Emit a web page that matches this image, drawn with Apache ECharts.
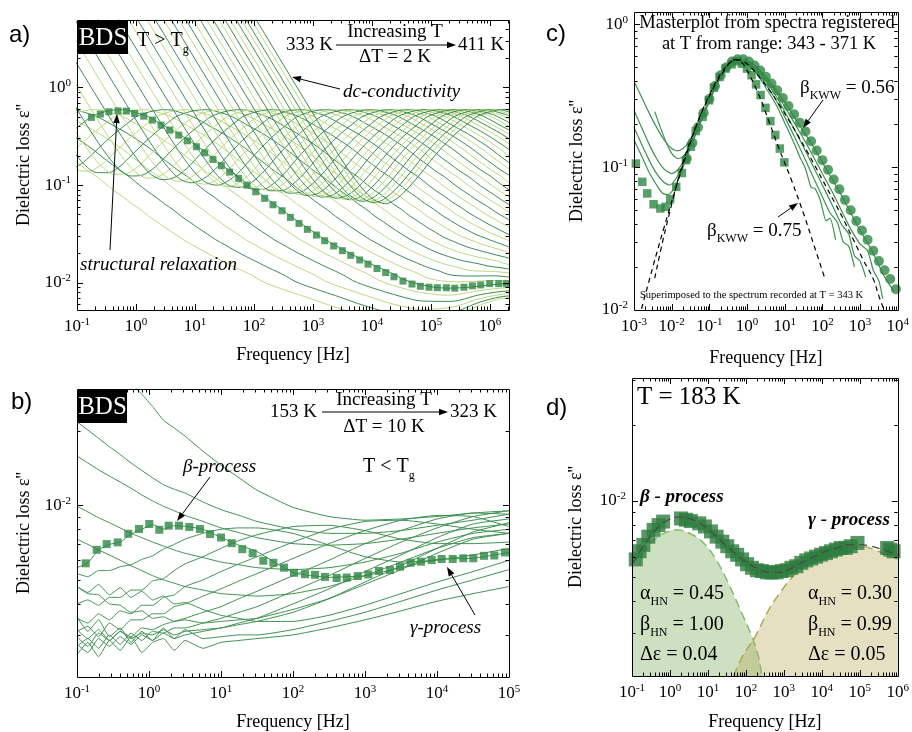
<!DOCTYPE html>
<html><head><meta charset="utf-8">
<script src="https://cdn.jsdelivr.net/npm/echarts@6/dist/echarts.min.js"></script>
<style>html,body{margin:0;padding:0;background:#fff}#c{width:912px;height:732px}</style>
</head><body><div id="c"></div>
<script>
// ---------------- Panel a data (T > Tg, 333..411 K, dT = 2 K) ----------------
const tempsA = [333,335,337,339,341,343,345,347,349,351,353,355,357,359,361,363,365,367,369,371,373,375,377,379,381,383,385,387,389,391,393,395,397,399,401,403,405,407,409,411];
// log10 of the structural-relaxation peak frequency of each spectrum
const peakLogA = [-2.70,-2.15,-1.64,-1.16,-0.72,-0.30,0.09,0.46,0.80,1.13,1.43,1.72,2.00,2.26,2.51,2.74,2.97,3.18,3.39,3.58,3.77,3.95,4.12,4.28,4.44,4.59,4.74,4.88,5.02,5.15,5.27,5.39,5.51,5.62,5.73,5.84,5.94,6.04,6.13,6.23];
// log10 of the frequency where the dc-conductivity line reaches eps'' = 1
const dcLogA = [-5.13,-4.64,-4.19,-3.77,-3.38,-3.01,-2.67,-2.35,-2.05,-1.76,-1.49,-1.23,-0.99,-0.76,-0.54,-0.34,-0.14,0.05,0.23,0.40,0.57,0.72,0.88,1.02,1.16,1.29,1.42,1.54,1.66,1.78,1.89,2.00,2.10,2.20,2.29,2.39,2.48,2.56,2.65,2.73];
// relaxation shape: offset (decades from peak) and eps''
const shapeDeltaA = [-4.4,-4.0,-3.6,-3.2,-2.9,-2.6,-2.4,-2.2,-2.0,-1.8,-1.6,-1.4,-1.2,-1.0,-0.8,-0.6,-0.45,-0.3,-0.15,0,0.14,0.28,0.44,0.58,0.73,0.88,1.03,1.18,1.33,1.47,1.61,1.75,1.89,2.05,2.19,2.33,2.49,2.63,2.78,2.92,3.07,3.21,3.36,3.50,3.66,3.80,3.94,4.10,4.24,4.39,4.54,4.68,4.83,5.0,5.3,5.6,6.0,6.5,7.0,7.5,8.0,8.5,9.0,9.5];
const shapeLossA = [0.00015,0.00037,0.00094,0.0024,0.0045,0.0085,0.0135,0.0207,0.0325,0.0531,0.0826,0.124,0.183,0.254,0.336,0.425,0.499,0.543,0.575,0.590,0.586,0.555,0.520,0.474,0.421,0.375,0.333,0.291,0.253,0.219,0.187,0.162,0.139,0.120,0.102,0.0876,0.0749,0.0644,0.0559,0.0478,0.0415,0.0361,0.0315,0.0276,0.0244,0.0218,0.0196,0.0175,0.0159,0.0143,0.0130,0.0118,0.0104,0.0094,0.0081,0.0070,0.0057,0.0045,0.0036,0.0029,0.0024,0.0020,0.0017,0.0014];
// high-frequency secondary contribution (absolute log10 f, eps'')
const secLogFA = [2.5,3.0,4.0,4.5,5.0,5.3,5.6,5.8,6.0,6.2,6.5];
const secLossA = [0,0.0001,0.0002,0.0004,0.0010,0.0018,0.0029,0.0038,0.0046,0.0052,0.0055];
// squares: spectrum at 343 K
const sqFreqA = [0.1754,0.2489,0.3483,0.4955,0.687,0.951,1.352,1.897,2.655,3.724,5.30,7.43,10.57,14.59,20.18,27.99,38.73,55.08,76.03,106.9,151.7,209.9,298.5,414,579,803,1143,1578,2244,3148,4355,6194,8551,12160,17060,23600,33500,47640,66070,92470,128200,182400,252400,362200,503500,695000,988600,1403000,1897000];
const sqLossA = [0.493,0.533,0.563,0.576,0.572,0.542,0.508,0.463,0.411,0.366,0.325,0.284,0.247,0.214,0.183,0.158,0.136,0.117,0.100,0.0855,0.0731,0.0629,0.0546,0.0467,0.0405,0.0352,0.0308,0.0269,0.0238,0.0213,0.0191,0.0171,0.0155,0.0140,0.0127,0.0115,0.0104,0.0097,0.0092,0.0090,0.0089,0.0089,0.0088,0.0090,0.0093,0.0095,0.0098,0.0098,0.0098];

// ---------------- Panel b data (T < Tg, 153..323 K, dT = 10 K), eps'' x 1e-3 ----------------
const logFreqB = [-1,-0.85,-0.7,-0.55,-0.4,-0.25,-0.1,0.05,0.2,0.35,0.5,0.75,1,1.25,1.5,2,2.5,3,3.5,4,4.5,5];
const tempsB = [153,163,173,183,193,203,213,223,233,243,253,263,273,283,293,303,313,323];
const lossB = [
 [2.5,2.8,2.45,2.85,2.6,2.95,2.55,2.8,2.9,2.6,2.85,2.65,2.8,2.85,2.9,3.0,3.2,3.45,3.75,4.1,4.4,4.7],
 [3.55,3.1,3.45,2.95,3.2,2.8,3.1,2.85,3.2,2.9,3.15,2.9,2.95,3.0,3.0,3.15,3.4,3.7,4.1,4.55,5.0,5.5],
 [4.7,4.45,4.8,4.35,4.65,4.25,4.5,4.15,4.3,4.0,4.05,3.8,3.6,3.5,3.4,3.4,3.6,3.95,4.4,4.9,5.4,6.0],
 [5.6,5.85,6.6,6.95,7.1,7.65,8.0,8.35,8.0,8.27,8.22,8.0,7.41,6.9,6.5,5.35,5.12,5.2,5.6,6.05,6.11,6.45],
 [5.3,5.15,5.45,5.45,5.65,5.75,6.05,6.25,6.65,6.95,7.3,7.7,8.0,8.1,8.1,7.7,6.9,6.2,5.9,6.0,6.3,6.7],
 [4.0,4.15,3.95,4.25,4.25,4.55,4.55,4.95,5.05,5.45,5.8,6.2,6.7,7.2,7.6,8.2,8.3,7.9,7.3,7.0,7.0,7.1],
 [3.5,3.35,3.65,3.45,3.75,3.65,3.95,3.95,4.25,4.35,4.7,5.0,5.4,5.8,6.2,7.1,8.0,8.6,8.7,8.4,8.0,7.7],
 [3.1,3.25,2.95,3.35,3.15,3.45,3.45,3.65,3.65,3.9,4.0,4.3,4.6,4.95,5.3,6.1,7.0,7.9,8.7,9.1,9.0,8.2],
 [2.95,2.7,3.05,2.85,3.1,2.95,3.2,3.15,3.3,3.4,3.5,3.7,3.9,4.2,4.5,5.2,6.0,7.0,7.9,8.8,9.3,9.2],
 [2.7,2.9,2.65,3.0,2.75,3.05,2.85,3.1,3.05,3.2,3.2,3.35,3.5,3.7,3.9,4.5,5.2,6.1,7.1,8.1,9.0,9.5],
 [2.75,2.55,2.9,2.7,2.95,2.75,3.0,2.85,3.05,2.9,3.0,3.1,3.2,3.35,3.5,4.0,4.6,5.4,6.3,7.4,8.4,8.8],
 [3.15,2.9,3.15,2.85,3.1,2.9,3.05,3.0,3.15,3.0,3.1,3.15,3.2,3.3,3.4,3.7,4.2,4.9,5.7,6.7,7.8,8.5],
 [4.7,4.4,4.35,4.0,3.95,3.7,3.75,3.5,3.55,3.4,3.45,3.35,3.4,3.45,3.5,3.8,4.2,4.8,5.5,6.4,7.3,7.7],
 [7.3,6.95,6.6,6.3,6.0,5.7,5.45,5.2,5.0,4.85,4.7,4.55,4.4,4.35,4.3,4.4,4.7,5.2,5.9,6.7,7.4,7.7],
 [9.9,9.4,8.9,8.5,8.1,7.7,7.4,7.1,6.85,6.6,6.4,6.15,5.9,5.75,5.6,5.5,5.6,5.9,6.4,7.1,7.7,8.0],
 [15.8,14.8,13.9,13.1,12.4,11.7,11.0,10.4,9.9,9.5,9.1,8.6,8.1,7.75,7.4,7.0,6.9,7.0,7.3,7.7,8.1,8.4],
 [21.7,20.1,18.6,17.2,16.0,14.8,13.8,12.9,12.1,11.6,11.2,10.3,9.6,9.1,8.6,8.0,7.7,7.7,7.9,8.3,8.7,9.2],
 [60,52,45,40,35,31,28,25,22,20.5,19,16.5,14.5,12.9,11.5,9.8,9.0,8.7,8.8,9.0,9.3,9.5]
];
// squares: spectrum at 183 K
const sqLogFreqB = [-0.879,-0.726,-0.588,-0.435,-0.288,-0.139,0.004,0.143,0.273,0.417,0.560,0.708,0.847,1.0,1.149,1.296,1.440,1.588,1.727,1.875,2.014,2.167,2.306,2.444,2.607,2.746,2.899,3.046,3.194,3.347,3.486,3.635,3.778,3.926,4.065,4.218,4.365,4.504,4.653,4.796,4.944];
const sqLossB = [0.00583,0.00661,0.00697,0.00708,0.00767,0.00802,0.00840,0.00796,0.00827,0.00827,0.00817,0.00802,0.00765,0.00741,0.00703,0.00665,0.00640,0.00597,0.00586,0.00560,0.00534,0.00527,0.00524,0.00514,0.00509,0.00511,0.00518,0.00526,0.00543,0.00548,0.00565,0.00586,0.00592,0.00601,0.00607,0.00607,0.00611,0.00611,0.00625,0.00627,0.00645];

// ---------------- Panel c data (masterplot), [log10 f, eps''] ----------------
const sqC = [[-2.95,0.106],[-2.78,0.079],[-2.65,0.0655],[-2.48,0.055],[-2.30,0.0514],[-2.16,0.0528],[-2.04,0.0598],[-1.88,0.0728],[-1.73,0.091],[-1.62,0.112],[-1.49,0.139],[-1.36,0.179],[-1.18,0.225],[-1.01,0.294],[-0.88,0.36],[-0.73,0.428],[-0.57,0.49],[-0.41,0.525],[-0.27,0.551],[-0.13,0.53],[0.0,0.49],[0.12,0.44],[0.24,0.38],[0.36,0.32],[0.49,0.26],[0.62,0.21],[0.75,0.168],[0.87,0.135],[0.99,0.108]];
const circC = [[-1.6,0.115],[-1.45,0.148],[-1.3,0.19],[-1.15,0.24],[-1.0,0.3],[-0.85,0.37],[-0.7,0.44],[-0.55,0.5],[-0.4,0.55],[-0.25,0.57],[-0.1,0.57],[0.05,0.55],[0.2,0.515],[0.35,0.475],[0.5,0.43],[0.65,0.385],[0.8,0.345],[0.95,0.305],[1.1,0.268],[1.25,0.235],[1.4,0.205],[1.55,0.178],[1.7,0.152],[1.85,0.131],[2.0,0.112],[2.15,0.096],[2.3,0.082],[2.45,0.07],[2.6,0.059],[2.75,0.05],[2.9,0.042],[3.05,0.036],[3.2,0.031],[3.35,0.026],[3.5,0.022],[3.65,0.019],[3.8,0.0165],[3.95,0.014]];
const lineC1 = [[-3.0,0.40],[-2.8,0.31],[-2.6,0.24],[-2.4,0.19],[-2.2,0.155],[-2.0,0.135],[-1.85,0.13],[-1.7,0.135],[-1.55,0.15],[-1.4,0.175],[-1.25,0.21],[-1.1,0.255],[-0.95,0.315],[-0.8,0.385],[-0.65,0.45],[-0.5,0.51],[-0.35,0.55],[-0.2,0.565],[-0.05,0.56],[0.1,0.54],[0.3,0.49],[0.5,0.43],[0.75,0.355],[1.0,0.285],[1.25,0.225],[1.5,0.178],[1.75,0.14],[2.0,0.108],[2.25,0.083],[2.5,0.064],[2.75,0.048],[3.0,0.036],[3.25,0.028],[3.45,0.022],[3.6,0.018],[3.75,0.0155],[3.9,0.0135]];
const lineC2 = [[-2.45,0.245],[-2.3,0.19],[-2.15,0.15],[-2.0,0.125],[-1.85,0.115],[-1.7,0.118],[-1.55,0.135],[-1.4,0.165],[-1.25,0.205],[-1.1,0.252],[-0.95,0.312],[-0.8,0.382],[-0.65,0.448],[-0.5,0.508],[-0.35,0.548],[-0.2,0.562],[-0.05,0.555],[0.1,0.53],[0.3,0.48],[0.5,0.415],[0.75,0.34],[1.0,0.265],[1.25,0.205],[1.5,0.158],[1.75,0.12],[2.0,0.09],[2.25,0.068],[2.5,0.05],[2.75,0.037],[3.0,0.029],[3.2,0.026],[3.35,0.019],[3.5,0.016],[3.6,0.012]];
const lineC3 = [[-3.0,0.25],[-2.8,0.19],[-2.6,0.145],[-2.4,0.115],[-2.2,0.097],[-2.0,0.09],[-1.85,0.095],[-1.7,0.108],[-1.55,0.128],[-1.4,0.16],[-1.25,0.2],[-1.1,0.25],[-0.95,0.31],[-0.8,0.38],[-0.65,0.446],[-0.5,0.506],[-0.35,0.546],[-0.2,0.56],[-0.05,0.55],[0.1,0.52],[0.3,0.465],[0.5,0.40],[0.75,0.32],[1.0,0.245],[1.25,0.185],[1.5,0.138],[1.75,0.102],[2.0,0.075],[2.25,0.055],[2.5,0.04],[2.7,0.034],[2.85,0.024],[3.0,0.022],[3.15,0.017]];
const lineC4 = [[-3.0,0.19],[-2.8,0.145],[-2.6,0.112],[-2.4,0.09],[-2.2,0.078],[-2.05,0.075],[-1.9,0.082],[-1.75,0.097],[-1.6,0.12],[-1.45,0.152],[-1.3,0.192],[-1.15,0.24],[-1.0,0.297],[-0.85,0.362],[-0.7,0.43],[-0.55,0.49],[-0.4,0.535],[-0.25,0.556],[-0.1,0.552],[0.1,0.51],[0.3,0.45],[0.5,0.38],[0.75,0.30],[1.0,0.225],[1.25,0.165],[1.5,0.12],[1.75,0.086],[2.0,0.062],[2.2,0.048],[2.4,0.041],[2.55,0.03],[2.7,0.028],[2.85,0.02]];
const lineC5 = [[-3.0,0.155],[-2.8,0.12],[-2.6,0.092],[-2.4,0.075],[-2.25,0.066],[-2.1,0.064],[-1.95,0.07],[-1.8,0.085],[-1.65,0.108],[-1.5,0.138],[-1.35,0.176],[-1.2,0.222],[-1.05,0.277],[-0.9,0.342],[-0.75,0.41],[-0.6,0.472],[-0.45,0.52],[-0.3,0.55],[-0.15,0.553],[0.1,0.50],[0.3,0.435],[0.5,0.36],[0.75,0.28],[1.0,0.205],[1.25,0.147],[1.4,0.118],[1.55,0.098],[1.7,0.072],[1.8,0.071],[1.95,0.058],[2.1,0.042],[2.2,0.044],[2.35,0.031]];
const kww075C = [[-2.45,0.0167],[-2.23,0.031],[-1.97,0.0588],[-1.71,0.106],[-1.36,0.191],[-1.01,0.31],[-0.66,0.452],[-0.31,0.566],[-0.18,0.55],[-0.05,0.503],[0.30,0.327],[0.57,0.213],[0.83,0.139],[1.18,0.081],[1.53,0.0449],[1.79,0.0277],[2.05,0.0171]];
const kww056C = [[-2.8,0.0102],[-2.5,0.02],[-2.2,0.038],[-1.9,0.07],[-1.6,0.125],[-1.3,0.21],[-1.0,0.32],[-0.7,0.45],[-0.45,0.54],[-0.31,0.566],[-0.1,0.55],[0.1,0.5],[0.35,0.42],[0.6,0.345],[0.85,0.275],[1.1,0.215],[1.35,0.167],[1.6,0.128],[1.85,0.097],[2.1,0.073],[2.35,0.055],[2.6,0.041],[2.85,0.03],[3.1,0.022],[3.35,0.0165],[3.5,0.0125],[3.65,0.0098]];

// ---------------- Panel d data (T = 183 K), [log10 f, eps''] ----------------
const sqD = [[-0.90,0.00585],[-0.80,0.0063],[-0.70,0.00668],[-0.57,0.0072],[-0.43,0.00766],[-0.30,0.0080],[-0.18,0.00826],[0.29,0.0085],[0.42,0.0084],[0.55,0.0083],[0.77,0.00813],[0.92,0.0079],[1.08,0.00755],[1.23,0.0072],[1.38,0.00688],[1.51,0.0066],[1.64,0.0063],[1.77,0.0061],[1.90,0.00585],[2.03,0.0056],[2.16,0.00542],[2.29,0.0053],[2.42,0.00526],[2.55,0.0052],[2.68,0.00519],[2.81,0.0052],[2.94,0.00526],[3.07,0.0053],[3.20,0.00542],[3.33,0.0055],[3.46,0.00567],[3.59,0.0058],[3.72,0.0059],[3.85,0.0060],[3.98,0.00611],[4.11,0.0062],[4.24,0.0063],[4.37,0.0064],[4.50,0.00649],[4.63,0.0065],[4.76,0.0066],[4.94,0.0068],[5.72,0.00649],[5.80,0.0064],[5.89,0.0063]];
const fitSumD = [[-1,0.0056],[-0.7,0.0066],[-0.4,0.0076],[-0.1,0.0083],[0.2,0.0086],[0.5,0.0085],[0.8,0.0081],[1.1,0.0075],[1.4,0.0068],[1.7,0.0062],[2.0,0.0057],[2.3,0.0054],[2.6,0.0052],[2.9,0.0052],[3.2,0.0054],[3.5,0.0057],[3.8,0.0060],[4.1,0.0063],[4.4,0.0065],[4.7,0.0067],[5.0,0.0067],[5.3,0.0066],[5.6,0.0064],[6.0,0.0061]];
const betaFitD = [[-1.0,0.00558],[-0.70,0.0063],[-0.36,0.00711],[-0.01,0.00759],[0.16,0.00766],[0.51,0.00743],[0.86,0.00686],[1.21,0.00585],[1.55,0.00467],[1.90,0.00356],[2.16,0.00289],[2.33,0.00241],[2.42,0.00202]];
const gammaFitD = [[1.68,0.00202],[1.90,0.0024],[2.25,0.0029],[2.59,0.00367],[2.94,0.0044],[3.29,0.0051],[3.64,0.00558],[3.98,0.00603],[4.33,0.00636],[4.68,0.00655],[5.02,0.0066],[5.37,0.0064],[5.72,0.0061],[6.0,0.00585]];

// ---------------- helpers ----------------
const SERIF = "'Liberation Serif','Times New Roman',serif";
const SANS = "'Liberation Sans',Arial,sans-serif";
const DARK = '#3b8b52', LIGHT = '#bcd97e', MARK = '#2f8744', LINEB = '#3f9150';
const P = v => Math.pow(10, v);
const toXY = arr => arr.map(p => [P(p[0]), p[1]]);
function secAt(lf){
  if (lf <= secLogFA[0]) return 0;
  for (let k = 1; k < secLogFA.length; k++) {
    if (lf <= secLogFA[k]) { const t = (lf - secLogFA[k-1]) / (secLogFA[k] - secLogFA[k-1]); return secLossA[k-1] + t * (secLossA[k] - secLossA[k-1]); }
  }
  return secLossA[secLossA.length - 1];
}
function powLabel(v){ const l = Math.log10(v); const e = Math.round(l); if (Math.abs(l - e) > 1e-4) return ''; return '{b|10}{s|' + e + '}'; }
const richLab = { b:{fontFamily:SERIF,fontSize:17,lineHeight:20,color:'#000'}, s:{fontFamily:SERIF,fontSize:11,lineHeight:10,verticalAlign:'top',color:'#000'} };
function mkX(gi, min, max, gap){ return {type:'log',logBase:10,gridIndex:gi,min,max,axisLine:{show:false},axisTick:{show:false},splitLine:{show:false},minorTick:{show:false},
  axisLabel:{formatter:powLabel,rich:richLab,margin:7,hideOverlap:false,showMinLabel:true,showMaxLabel:true},
  name:'Frequency [Hz]',nameLocation:'middle',nameGap:gap,nameTextStyle:{fontFamily:SERIF,fontSize:18,color:'#000'}}; }
function mkY(gi, min, max, gap){ return {type:'log',logBase:10,gridIndex:gi,min,max,axisLine:{show:false},axisTick:{show:false},splitLine:{show:false},minorTick:{show:false},
  axisLabel:{formatter:powLabel,rich:richLab,margin:6,hideOverlap:false,showMinLabel:true,showMaxLabel:true},
  name:"Dielectric loss \u03b5''",nameLocation:'middle',nameGap:gap,nameRotate:90,nameTextStyle:{fontFamily:SERIF,fontSize:18,color:'#000'}}; }
function logTicks(a, b){ const out = []; for (let e = Math.floor(Math.log10(a)) - 1; e <= Math.ceil(Math.log10(b)); e++) { for (let m = 1; m <= 9; m++) { const v = m * Math.pow(10, e); if (v >= a * 1.0001 && v <= b * 0.9999) out.push({v, major: m === 1}); } } return out; }
function frameSeries(gi, xr, yr){
  return {type:'custom',xAxisIndex:gi,yAxisIndex:gi,silent:true,z:20,clip:false,data:[[xr[0]*1.5,yr[0]*1.5]],
    renderItem:(params, api) => {
      const cs = params.coordSys; const ch = []; const L = 6, l = 3.5;
      const st = {stroke:'#000',lineWidth:1};
      const x0 = cs.x, y0 = cs.y, x1 = cs.x + cs.width, y1 = cs.y + cs.height;
      logTicks(xr[0], xr[1]).forEach(t => { const px = Math.round(api.coord([t.v, yr[0]*1.5])[0]) + 0.5; const n = t.major ? L : l;
        ch.push({type:'line',shape:{x1:px,y1:y1,x2:px,y2:y1-n},style:st});
        ch.push({type:'line',shape:{x1:px,y1:y0,x2:px,y2:y0+n},style:st}); });
      logTicks(yr[0], yr[1]).forEach(t => { const py = Math.round(api.coord([xr[0]*1.5, t.v])[1]) + 0.5; const n = t.major ? L : l;
        ch.push({type:'line',shape:{x1:x0,y1:py,x2:x0+n,y2:py},style:st});
        ch.push({type:'line',shape:{x1:x1,y1:py,x2:x1-n,y2:py},style:st}); });
      ch.push({type:'rect',shape:{x:Math.round(x0)+0.5,y:Math.round(y0)+0.5,width:Math.round(cs.width),height:Math.round(cs.height)},style:{fill:null,stroke:'#000',lineWidth:1}});
      return {type:'group',children:ch};
    }};
}
// graphic helpers
function txt(x, y, text, opt){ opt = opt || {}; return {type:'text',x,y,z:50,style:Object.assign({text,fontFamily:SERIF,fontSize:19,fill:'#000',textVerticalAlign:'middle',textAlign:'left'},opt)}; }
function rtxt(x, y, rich, opt){ opt = opt || {}; return {type:'text',x,y,z:50,style:Object.assign({text:rich.text,rich:rich.rich,fontFamily:SERIF,fontSize:19,fill:'#000',textVerticalAlign:'middle',textAlign:'left'},opt)}; }
function arrow(x1, y1, x2, y2, w){ w = w || 1; const a = Math.atan2(y2 - y1, x2 - x1); const hl = 9, hw = 3.2;
  const bx = x2 - hl * Math.cos(a), by = y2 - hl * Math.sin(a);
  return [{type:'line',z:50,shape:{x1,y1,x2:bx,y2:by},style:{stroke:'#000',lineWidth:w}},
          {type:'polygon',z:50,shape:{points:[[x2,y2],[bx + hw*Math.sin(a), by - hw*Math.cos(a)],[bx - hw*Math.sin(a), by + hw*Math.cos(a)]]},style:{fill:'#000'}}]; }
// text with a lowered subscript: main, sub, rest
function subRich(main, sub, rest, fs, sfs, drop){
  drop = drop || 8;
  const lh = sfs + 2 * drop;
  const base = {fontFamily:SERIF,fontSize:fs,lineHeight:lh,verticalAlign:'middle'};
  return {text:'{m|' + main + '}{s|' + sub + '}{m|' + rest + '}', rich:{m:base, s:{fontFamily:SERIF,fontSize:sfs,lineHeight:sfs,verticalAlign:'bottom'}}};
}

// ---------------- ranges ----------------
const XA = [0.1, 2.1e6], YA = [0.00526, 4.9];
const XB = [0.1, 1e5],   YB = [0.00203, 0.0294];
const XC = [0.001, 1e4], YC = [0.01, 1.22];
const XD = [0.1, 1e6],   YD = [0.00202, 0.0306];

const series = [];
// panel a curves
for (let i = 0; i < tempsA.length; i++) {
  const data = [];
  for (let j = 0; j < shapeDeltaA.length; j++) {
    const lf = peakLogA[i] + shapeDeltaA[j];
    if (lf < -2.2 || lf > 7.2) continue;
    data.push([P(lf), shapeLossA[j] + P(dcLogA[i] - lf) + secAt(lf)]);
  }
  series.push({type:'line',name:tempsA[i] + ' K',xAxisIndex:0,yAxisIndex:0,data,showSymbol:false,smooth:0.3,silent:true,z:2,lineStyle:{width:1,color:i % 2 ? DARK : LIGHT}});
}
series.push({type:'scatter',xAxisIndex:0,yAxisIndex:0,data:sqFreqA.map((f, k) => [f, sqLossA[k]]),symbol:'rect',symbolSize:7,itemStyle:{color:MARK},z:5,silent:true});
// panel b curves
lossB.forEach((row, i) => {
  series.push({type:'line',name:tempsB[i] + ' K',xAxisIndex:1,yAxisIndex:1,data:row.map((v, k) => [P(logFreqB[k]), v * 1e-3]),showSymbol:false,smooth:0.15,silent:true,z:2,lineStyle:{width:1,color:LINEB}});
});
series.push({type:'scatter',xAxisIndex:1,yAxisIndex:1,data:sqLogFreqB.map((lf, k) => [P(lf), sqLossB[k]]),symbol:'rect',symbolSize:8,itemStyle:{color:MARK},z:5,silent:true});
// panel c
[lineC1, lineC2, lineC3, lineC4, lineC5].forEach(arr => series.push({type:'line',xAxisIndex:2,yAxisIndex:2,data:toXY(arr),showSymbol:false,smooth:0.2,silent:true,z:3,lineStyle:{width:1.2,color:LINEB}}));
series.push({type:'scatter',xAxisIndex:2,yAxisIndex:2,data:toXY(circC),symbol:'circle',symbolSize:10,itemStyle:{color:MARK},z:4,silent:true});
series.push({type:'scatter',xAxisIndex:2,yAxisIndex:2,data:toXY(sqC),symbol:'rect',symbolSize:8.5,itemStyle:{color:MARK},z:4,silent:true});
[kww075C, kww056C].forEach(arr => series.push({type:'line',xAxisIndex:2,yAxisIndex:2,data:toXY(arr),showSymbol:false,smooth:0.4,silent:true,z:6,lineStyle:{width:1.2,color:'#000',type:[5,4]}}));
// panel d
series.push({type:'line',xAxisIndex:3,yAxisIndex:3,data:toXY(betaFitD),showSymbol:false,smooth:0.4,silent:true,z:2,lineStyle:{width:1.5,color:'#86b96a',type:[9,5]},areaStyle:{origin:'start',color:'rgba(125,176,96,0.55)'}});
series.push({type:'line',xAxisIndex:3,yAxisIndex:3,data:toXY(gammaFitD),showSymbol:false,smooth:0.4,silent:true,z:2,lineStyle:{width:1.5,color:'#b3a650',type:[9,5]},areaStyle:{origin:'start',color:'rgba(178,168,80,0.5)'}});
series.push({type:'scatter',xAxisIndex:3,yAxisIndex:3,data:toXY(sqD),symbol:'rect',symbolSize:14,itemStyle:{color:'#2e7d3f'},z:4,silent:true});
series.push({type:'line',xAxisIndex:3,yAxisIndex:3,data:toXY(fitSumD),showSymbol:false,smooth:0.4,silent:true,z:6,lineStyle:{width:1.3,color:'#4a4a4a',type:[8,5]}});
// frames & ticks
series.push(frameSeries(0, XA, YA), frameSeries(1, XB, YB), frameSeries(2, XC, YC), frameSeries(3, XD, YD));

// ---------------- annotations ----------------
const g = [];
// panel a
g.push(txt(9, 35, 'a)', {fontFamily:SANS, fontSize:24}));
g.push({type:'rect',z:50,shape:{x:78,y:21,width:50,height:33},style:{fill:'#000'}});
g.push(txt(103, 38, 'BDS', {fill:'#fff', fontSize:25, textAlign:'center'}));
g.push(rtxt(137, 41, subRich('T > T', 'g', '', 20, 12, 9)));
g.push(txt(333, 45, '333 K', {textAlign:'right'}));
g.push(...arrow(336, 45, 456, 45));
g.push(txt(395, 32, 'Increasing T', {textAlign:'center'}));
g.push(txt(395, 57, '\u0394T = 2 K', {textAlign:'center'}));
g.push(txt(458, 45, '411 K'));
g.push(txt(343, 92, 'dc-conductivity', {fontStyle:'italic'}));
g.push(...arrow(340, 89, 292, 77));
g.push(txt(80, 265, 'structural relaxation', {fontStyle:'italic'}));
g.push(...arrow(110, 250, 117, 114));
// panel b
g.push(txt(11, 402, 'b)', {fontFamily:SANS, fontSize:24}));
g.push({type:'rect',z:50,shape:{x:78,y:390,width:49,height:33},style:{fill:'#000'}});
g.push(txt(102.5, 407, 'BDS', {fill:'#fff', fontSize:25, textAlign:'center'}));
g.push(txt(317, 412, '153 K', {textAlign:'right'}));
g.push(...arrow(322, 412, 448, 412));
g.push(txt(384, 400, 'Increasing T', {textAlign:'center'}));
g.push(txt(384, 427, '\u0394T = 10 K', {textAlign:'center'}));
g.push(txt(450, 412, '323 K'));
g.push(rtxt(363, 467, subRich('T < T', 'g', '', 20, 12, 9)));
g.push(txt(183, 467, '\u03b2-process', {fontStyle:'italic'}));
g.push(...arrow(210, 477, 177, 521));
g.push(txt(410, 628, '\u03b3-process', {fontStyle:'italic'}));
g.push(...arrow(475, 615, 447, 567));
// panel c
g.push(txt(546, 34, 'c)', {fontFamily:SANS, fontSize:24}));
g.push(txt(767, 23, 'Masterplot from spectra registered', {textAlign:'center', fontSize:18.5}));
g.push(txt(769, 44, 'at T from range: 343 - 371 K', {textAlign:'center', fontSize:18.5}));
g.push(rtxt(800, 88, subRich('\u03b2', 'KWW', ' = 0.56', 19, 12, 8)));
g.push(...arrow(823, 100, 803, 128));
g.push(rtxt(707, 231, subRich('\u03b2', 'KWW', ' = 0.75', 19, 12, 8)));
g.push(...arrow(778, 217, 798, 203));
g.push(txt(640, 295, 'Superimposed to the spectrum recorded at T = 343 K', {fontSize:10.5}));
// panel d
g.push(txt(546, 408, 'd)', {fontFamily:SANS, fontSize:24}));
g.push(txt(637, 397, 'T = 183 K', {fontSize:25}));
g.push(txt(640, 497, '\u03b2 - process', {fontStyle:'italic', fontWeight:'bold', fontSize:19}));
g.push(txt(808, 520, '\u03b3 - process', {fontStyle:'italic', fontWeight:'bold', fontSize:19}));
const parL = [['\u03b1','HN',' = 0.45'],['\u03b2','HN',' = 1.00']], parR = [['\u03b1','HN',' = 0.30'],['\u03b2','HN',' = 0.99']];
parL.forEach((p, k) => g.push(rtxt(640, 594 + 31*k, subRich(p[0], p[1], p[2], 20, 12, 8))));
parR.forEach((p, k) => g.push(rtxt(808, 594 + 31*k, subRich(p[0], p[1], p[2], 20, 12, 8))));
g.push(txt(640, 655, '\u0394\u03b5 = 0.04', {fontSize:20}));
g.push(txt(808, 655, '\u0394\u03b5 = 0.05', {fontSize:20}));

const option = {
  animation:false,
  backgroundColor:'#fff',
  grid:[
    {left:77, top:20, width:432, height:290, show:false},
    {left:77, top:389, width:432, height:289, show:false},
    {left:634, top:12, width:267, height:298, show:false},
    {left:632, top:378, width:269, height:302, show:false}
  ],
  xAxis:[mkX(0, XA[0], XA[1], 36), mkX(1, XB[0], XB[1], 36), mkX(2, XC[0], XC[1], 39), mkX(3, XD[0], XD[1], 37)],
  yAxis:[mkY(0, YA[0], YA[1], 44), mkY(1, YB[0], YB[1], 44), mkY(2, YC[0], YC[1], 48), mkY(3, YD[0], YD[1], 47)],
  series,
  graphic:g
};
const chart = echarts.init(document.getElementById('c'), null, {renderer:'canvas'});
chart.setOption(option);
</script></body></html>
